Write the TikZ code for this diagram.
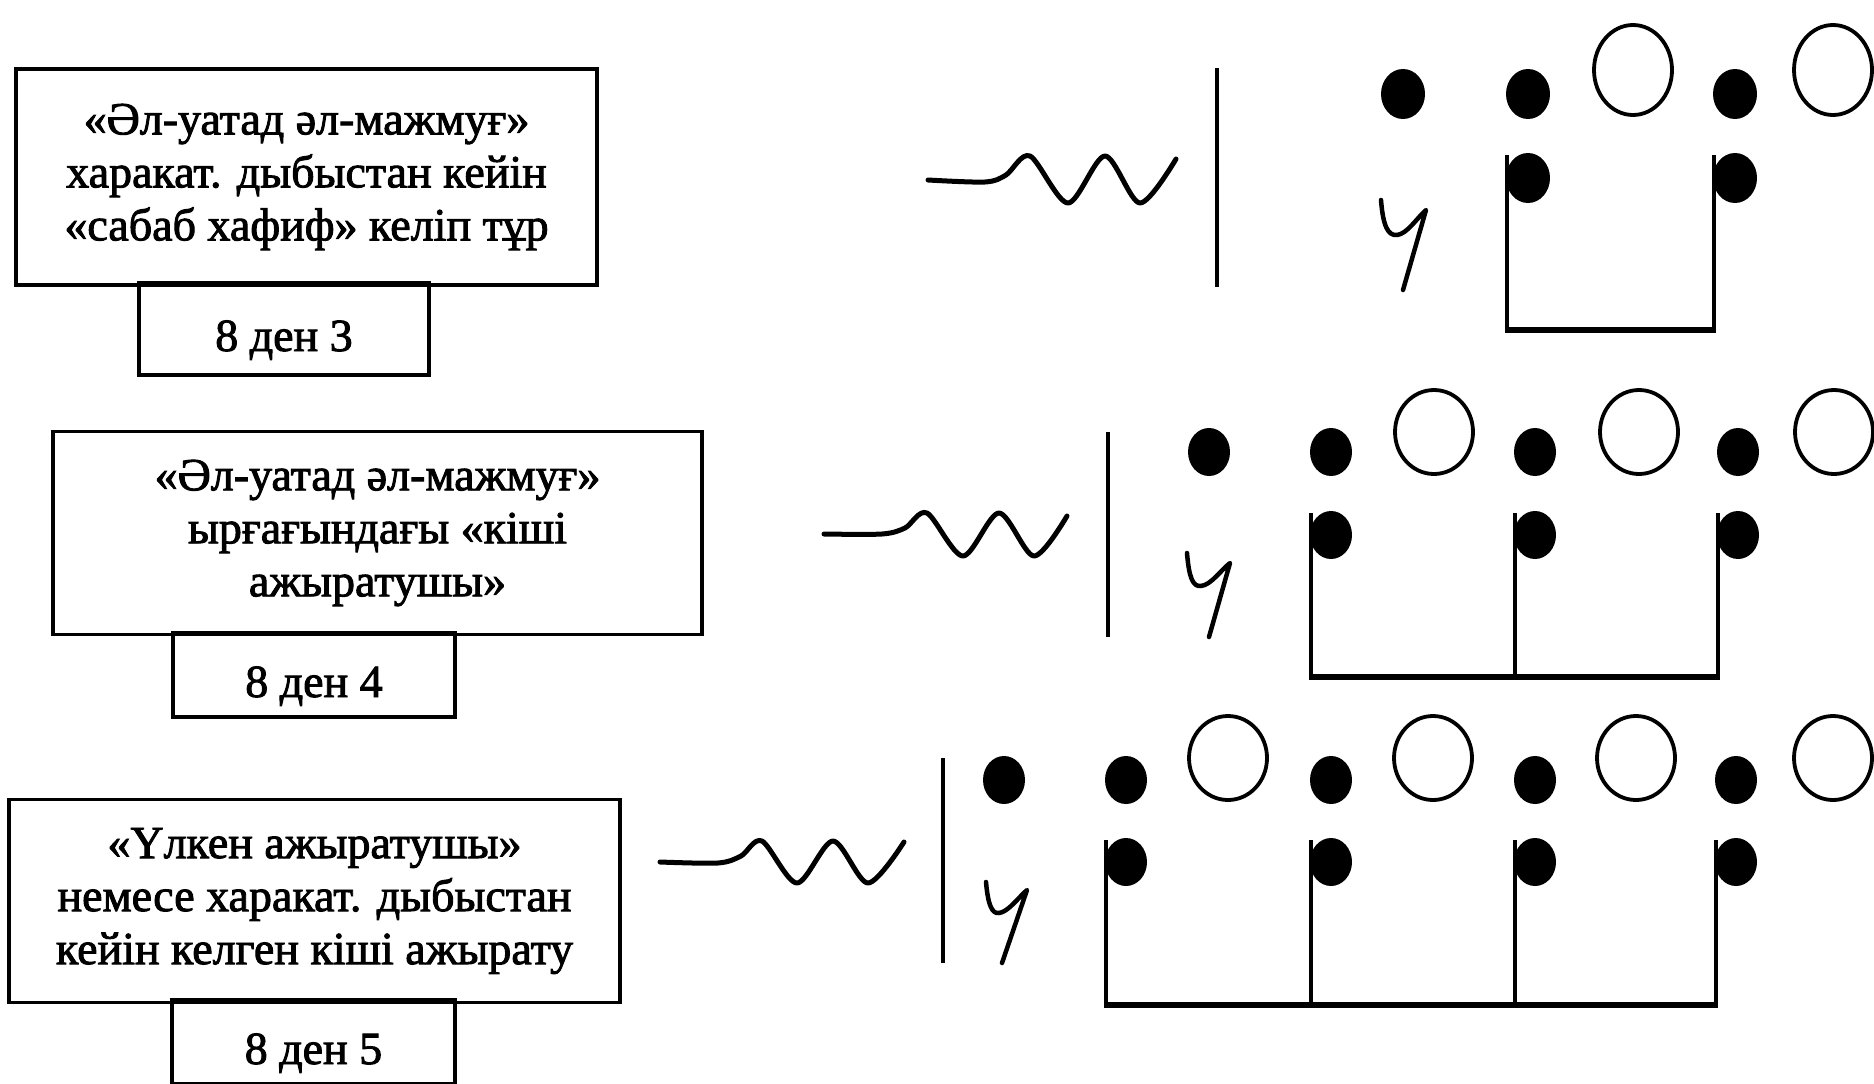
\documentclass[tikz,border=0pt]{standalone}
\usepackage{fontspec}
\setmainfont{Liberation Serif}
\newfontfamily\heavyserif{Liberation Serif}[FakeBold=2]
\begin{document}
\begin{tikzpicture}[x=1pt,y=-1pt,
  box/.style={draw, line width=3.5pt, inner sep=0pt, align=center,
    font=\heavyserif\fontsize{46}{53}\selectfont},
  subbox/.style={box, text height=44pt, text depth=0pt},
  wave/.style={line width=5pt, line cap=round, line join=round},
  barline/.style={line width=4pt},
  stem/.style={line width=3.5pt},
  beam/.style={line width=6.5pt},
  glyph/.style={line width=4.5pt, line cap=round, line join=round},
  ring/.style={line width=3.8pt}]
\useasboundingbox (0,0) rectangle (1874,1084);
\fill[white] (0,0) rectangle (1874,1084);

% ---------- boxes ----------
\node[box, minimum width=581pt, minimum height=216pt] (b1) at (306.5,177)
  {«Әл-уатад әл-мажмуғ»\\харакат. дыбыстан кейін\\«сабаб хафиф» келіп тұр};
\node[subbox, minimum width=290pt, minimum height=92pt] (s1) at (284,329) {8 ден 3};

\node[box, minimum width=649pt, minimum height=203pt] (b2) at (377.5,533)
  {«Әл-уатад әл-мажмуғ»\\ырғағындағы «кіші\\ажыратушы»};
\node[subbox, minimum width=282pt, minimum height=84pt] (s2) at (314,675) {8 ден 4};

\node[box, minimum width=611pt, minimum height=203pt] (b3) at (314.5,901)
  {«Үлкен ажыратушы»\\немесе харакат. дыбыстан\\кейін келген кіші ажырату};
\node[subbox, minimum width=283pt, minimum height=84pt] (s3) at (313.5,1042) {8 ден 5};

% ---------- row 1 ----------
\draw[wave] plot[smooth, tension=0.5] coordinates
  {(928,180) (985,182) (1006,175) (1030,156) (1068,203) (1105,156) (1140,203) (1176,159)};
\draw[barline] (1217,68) -- (1217,287);
\foreach \x in {1403,1528,1735} \fill (\x,94) ellipse [x radius=22, y radius=25];
\foreach \x in {1633,1833} \draw[ring] (\x,70) ellipse [x radius=39, y radius=45];
\foreach \x in {1528,1735} {
  \fill (\x,178) ellipse [x radius=22, y radius=25];
  \draw[stem] (\x-21,155) -- (\x-21,330);
}
\draw[beam] (1507-1.75,330) -- (1714+1.75,330);
\draw[glyph] (1381,200) .. controls (1383,226) and (1388,236) .. (1397,235)
  .. controls (1407,234) and (1417,218) .. (1426,210) -- (1403,290);

% ---------- row 2 ----------
\draw[wave] plot[smooth, tension=0.5] coordinates
  {(824,534) (882,534) (905,528) (927,513) (963,556) (999,513) (1034,556) (1067,516)};
\draw[barline] (1108,432) -- (1108,637);
\foreach \x in {1209,1331,1535,1738} \fill (\x,452) ellipse [x radius=21, y radius=24];
\foreach \x in {1434,1639,1834} \draw[ring] (\x,432) ellipse [x radius=39, y radius=42];
\foreach \x in {1331,1535,1738} {
  \fill (\x,535) ellipse [x radius=21, y radius=24];
  \draw[stem] (\x-20,513) -- (\x-20,677);
}
\draw[beam] (1311-1.75,677) -- (1718+1.75,677);
\draw[glyph] (1187,553) .. controls (1189,578) and (1193,587) .. (1201,586)
  .. controls (1211,585) and (1221,570) .. (1230,563) -- (1209,637);

% ---------- row 3 ----------
\draw[wave] plot[smooth, tension=0.5] coordinates
  {(660,862) (718,863) (741,856) (762,841) (797,883) (833,841) (868,883) (904,842)};
\draw[barline] (943,758) -- (943,963);
\foreach \x in {1004,1126,1331,1535,1736} \fill (\x,780) ellipse [x radius=21, y radius=24];
\foreach \x in {1228,1433,1636,1833} \draw[ring] (\x,758) ellipse [x radius=39, y radius=42];
\foreach \x in {1126,1331,1535,1736} {
  \fill (\x,862) ellipse [x radius=21, y radius=24];
  \draw[stem] (\x-20,840) -- (\x-20,1005);
}
\draw[beam] (1106-1.75,1005) -- (1716+1.75,1005);
\draw[glyph] (986,882) .. controls (988,905) and (992,914) .. (999,913)
  .. controls (1008,912) and (1018,898) .. (1027,890) -- (1002,963);
\end{tikzpicture}
\end{document}
